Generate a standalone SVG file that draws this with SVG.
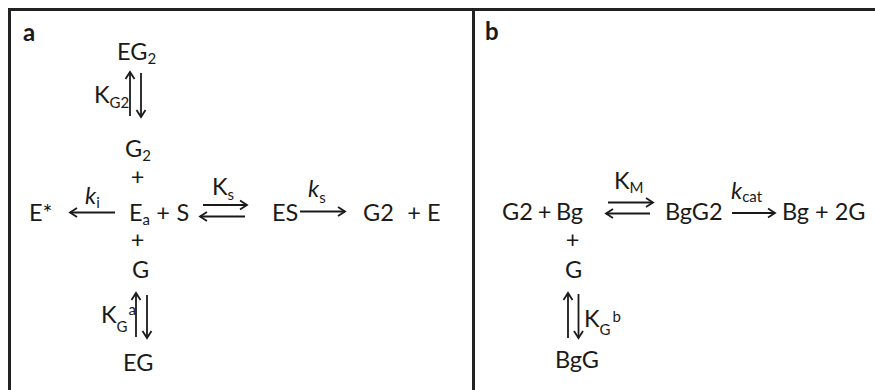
<svg xmlns="http://www.w3.org/2000/svg" width="875" height="390" viewBox="0 0 875 390">
<defs>
<marker id="ah" markerUnits="userSpaceOnUse" markerWidth="12" markerHeight="12" viewBox="0 0 12 12" refX="8.5" refY="6" orient="auto">
<path d="M1.5,1.5 L8.5,6 L1.5,10.5" fill="none" stroke="#1a1a1a" stroke-width="1.8"/>
</marker>
<style>
text{font-family:Lato,"Liberation Sans",sans-serif;font-size:23.5px;fill:#1a1a1a}
.lbl{font-weight:bold;font-size:24px}
.s{font-size:15px}
.i{font-style:italic}
.n{font-style:normal}
.c{text-anchor:middle}
.ar{stroke:#1a1a1a;stroke-width:1.8;fill:none;marker-end:url(#ah)}
.frame{stroke:#222;stroke-width:3;fill:none}
</style>
</defs>
<rect width="875" height="390" fill="#fff"/>
<g id="frame">
<path class="frame" d="M9.5,390 V9.5 H875"/>
<path class="frame" d="M473.5,9.5 V390"/>
</g>
<g id="panel-a">
<text class="lbl" x="23" y="41">a</text>
<g id="EG2"><text x="117" y="60">EG<tspan class="s" dy="4">2</tspan></text></g>
<g id="KG2"><text x="94" y="103">K<tspan class="s" dy="5">G2</tspan></text></g>
<g id="G2a"><text x="125" y="157">G<tspan class="s" dy="4">2</tspan></text></g>
<text class="c" x="137.5" y="185">+</text>
<g id="Estar"><text x="29" y="221">E*</text></g>
<g id="ki"><text class="i" x="85" y="204">k<tspan class="s n" dy="4">i</tspan></text></g>
<g id="Ea"><text x="129" y="221">E<tspan class="s" dy="4">a</tspan></text></g>
<text class="c" x="163" y="221">+</text>
<g id="S"><text x="176.5" y="221">S</text></g>
<g id="Ks"><text x="212" y="195">K<tspan class="s" dy="5">s</tspan></text></g>
<g id="ES"><text x="272" y="221">ES</text></g>
<g id="ks"><text class="i" x="308" y="197">k<tspan class="s n" dy="6">s</tspan></text></g>
<g id="G2prod"><text x="363" y="221">G2</text></g>
<text class="c" x="414" y="221">+</text>
<g id="E"><text x="427" y="221">E</text></g>
<text class="c" x="137.5" y="248">+</text>
<g id="Ga"><text x="132" y="278">G</text></g>
<g id="KGa"><text x="101" y="323">K<tspan class="s" dy="9">G</tspan><tspan class="s" dx="1" dy="-17">a</tspan></text></g>
<g id="EG"><text x="123" y="371">EG</text></g>
</g>
<g id="panel-b">
<text class="lbl" x="485" y="40">b</text>
<g id="G2b"><text x="502" y="220">G2</text></g>
<text class="c" x="544.5" y="220">+</text>
<g id="Bg"><text x="556" y="220">Bg</text></g>
<g id="KM"><text x="614" y="189">K<tspan class="s" dy="4">M</tspan></text></g>
<g id="BgG2"><text x="665" y="220">BgG2</text></g>
<g id="kcat"><text class="i" x="731" y="199">k<tspan class="s n" dy="3">cat</tspan></text></g>
<g id="Bg2G"><text x="782" y="220">Bg + 2G</text></g>
<text class="c" x="572.5" y="248">+</text>
<g id="Gb"><text x="565" y="278">G</text></g>
<g id="KGb"><text x="584" y="327">K<tspan class="s" dy="8">G</tspan><tspan class="s" dx="2" dy="-13">b</tspan></text></g>
<g id="BgG"><text x="555" y="368">BgG</text></g>
</g>
<g id="connectors">
<line class="ar" x1="130" y1="116" x2="130" y2="72"/>
<line class="ar" x1="141" y1="73" x2="141" y2="117"/>
<line class="ar" x1="115" y1="212.5" x2="70" y2="212.5"/>
<line class="ar" x1="203" y1="205" x2="247" y2="205"/>
<line class="ar" x1="245" y1="216.5" x2="200" y2="216.5"/>
<line class="ar" x1="300" y1="211.5" x2="345" y2="211.5"/>
<line class="ar" x1="136" y1="337" x2="136" y2="293"/>
<line class="ar" x1="147" y1="295" x2="147" y2="338"/>
<line class="ar" x1="608" y1="202.5" x2="653" y2="202.5"/>
<line class="ar" x1="650" y1="213.5" x2="606" y2="213.5"/>
<line class="ar" x1="732" y1="213" x2="775" y2="213"/>
<line class="ar" x1="568" y1="338" x2="568" y2="293"/>
<line class="ar" x1="578.5" y1="294" x2="578.5" y2="338"/>
</g>
</svg>
